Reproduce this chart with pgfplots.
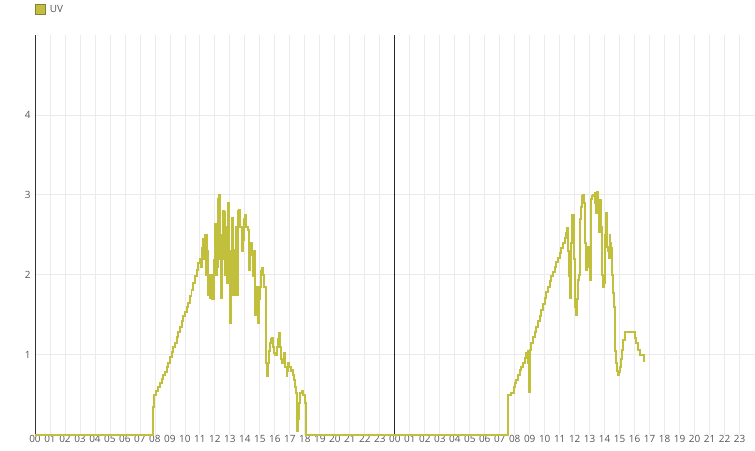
\documentclass[border=0pt]{standalone}
\usepackage{fontspec}
\setmainfont{Open Sans}
\usepackage{pgfplots}
\pgfplotsset{compat=1.18}
\definecolor{uvcol}{RGB}{193,191,59}
\definecolor{uvborder}{RGB}{130,128,60}
\definecolor{gridc}{RGB}{235,235,235}
\definecolor{labc}{RGB}{85,85,85}
\begin{document}
\begin{tikzpicture}
\begin{axis}[
  scale only axis,
  width=720bp, height=400bp,
  xmin=0, xmax=48, ymin=0, ymax=5,
  separate axis lines,
  axis x line=bottom,
  axis y line=left,
  x axis line style={-, draw=none},
  y axis line style={-, draw=black!80, line width=0.8bp},
  xtick={0,...,47},
  xticklabels={00,01,02,03,04,05,06,07,08,09,10,11,12,13,14,15,16,17,18,19,20,21,22,23,00,01,02,03,04,05,06,07,08,09,10,11,12,13,14,15,16,17,18,19,20,21,22,23},
  ytick={1,2,3,4},
  major tick length=0pt,
  xmajorgrids, ymajorgrids,
  grid style={gridc, line width=0.8bp},
  extra x ticks={24},
  extra x tick labels={},
  extra x tick style={grid style={black!85, line width=0.8bp}},
  tick label style={font=\fontsize{10}{12}\selectfont, text=labc},
  xticklabel style={yshift=3bp},
  yticklabel style={xshift=-1bp},
  /pgf/number format/assume math mode=true,
  clip=false,
  legend style={at={(rel axis cs:0,1)}, anchor=south west, yshift=19bp, xshift=0bp, draw=none, fill=none, inner sep=0pt, font=\fontsize{10}{12}\selectfont, text=labc},
  legend image code/.code={\draw[fill=uvcol, draw=uvborder, line width=0.6bp] (0bp,-4.5bp) rectangle (10bp,5.5bp);},
  legend cell align=left,
  legend style={/tikz/every odd column/.style={column sep=2bp}},
]
\addplot[const plot, color=uvcol, line width=2bp] coordinates {
(0,0) (7.87,0) (7.9,0.35) (7.95,0.5) (8.0,0.5) (8.1,0.55) (8.22,0.6) (8.33,0.65) (8.44,0.7) (8.55,0.75) (8.67,0.79) (8.78,0.85) (8.89,0.9) (9.0,0.97) (9.11,1.04) (9.22,1.1) (9.33,1.15) (9.44,1.22) (9.56,1.29) (9.67,1.35) (9.78,1.42) (9.89,1.48) (10.0,1.54) (10.11,1.6) (10.22,1.65) (10.33,1.73) (10.44,1.81) (10.55,1.9) (10.67,1.98) (10.78,2.06) (10.89,2.15) (11.0,2.2)
(11.05,2.1) (11.11,2.34) (11.18,2.2) (11.24,2.45) (11.29,2.2) (11.35,2.5) (11.4,2.0) (11.44,2.5) (11.5,2.3) (11.56,1.75) (11.62,2.0) (11.7,1.71) (11.78,2.0) (11.84,1.7) (11.92,2.19) (12.0,2.63) (12.05,2.0) (12.11,2.63) (12.18,2.1) (12.24,2.95) (12.29,3.0) (12.35,2.2) (12.4,2.5) (12.44,1.71) (12.5,2.2) (12.55,2.8) (12.6,2.79) (12.65,2.0) (12.72,2.4) (12.78,2.6) (12.83,1.9) (12.89,2.9) (12.95,2.2) (13.0,1.4) (13.05,1.7) (13.1,2.3) (13.16,2.71) (13.22,1.75) (13.27,2.3) (13.33,2.31) (13.38,1.75) (13.44,2.6) (13.5,1.75) (13.56,2.8) (13.62,2.81) (13.7,2.6) (13.78,2.56) (13.84,2.3) (13.89,2.44) (13.95,2.7) (14.0,2.75) (14.1,2.6) (14.18,2.56) (14.27,2.06) (14.33,2.35) (14.4,2.4) (14.48,2.25) (14.56,1.98) (14.62,2.3) (14.67,1.5) (14.72,1.6) (14.78,1.73) (14.84,1.85) (14.89,1.4) (14.95,1.7) (15.0,1.85) (15.08,2.05) (15.16,2.09) (15.22,2.0) (15.29,1.85) (15.38,1.29) (15.44,0.9) (15.47,0.73) (15.52,0.8) (15.56,0.9) (15.62,1.05) (15.67,1.15) (15.75,1.2) (15.82,1.21) (15.9,1.1) (15.96,1.02) (16.03,1.0) (16.11,1.1) (16.2,1.2) (16.27,1.27) (16.33,1.1) (16.38,1.02) (16.44,0.95) (16.49,0.9) (16.55,0.95) (16.62,1.02) (16.7,0.85) (16.78,0.73) (16.84,0.8) (16.89,0.9) (16.95,0.85) (17.0,0.85) (17.08,0.8) (17.16,0.81) (17.22,0.75) (17.29,0.69) (17.36,0.6) (17.44,0.52) (17.48,0.05) (17.54,0.2) (17.6,0.4) (17.67,0.52) (17.78,0.55) (17.89,0.5) (18.0,0.4) (18.07,0)
(31.49,0) (31.53,0.25) (31.58,0.5) (31.78,0.52) (31.93,0.6) (32.02,0.65) (32.11,0.69) (32.22,0.75) (32.33,0.81) (32.44,0.85) (32.55,0.9) (32.66,0.96) (32.78,1.02) (32.86,1.05) (32.91,0.9) (32.95,0.54) (33.0,1.06) (33.11,1.15) (33.22,1.22) (33.33,1.29) (33.44,1.35) (33.55,1.42) (33.66,1.49) (33.78,1.56) (33.89,1.63) (34.0,1.71) (34.11,1.78) (34.22,1.85) (34.33,1.92) (34.44,1.98) (34.55,2.04) (34.67,2.1) (34.78,2.16) (34.89,2.21) (35.0,2.27) (35.11,2.33) (35.22,2.4) (35.33,2.46) (35.42,2.52) (35.49,2.58) (35.55,2.3) (35.6,1.98) (35.67,1.71) (35.72,2.1) (35.78,2.4) (35.84,2.75) (35.89,2.75) (35.95,2.2) (36.0,1.81) (36.05,1.6) (36.11,1.5) (36.16,1.7) (36.22,1.94) (36.28,2.0) (36.33,2.19) (36.38,2.7) (36.44,2.85) (36.5,2.98) (36.55,3.0) (36.6,2.9) (36.67,2.77) (36.72,2.4) (36.78,2.06) (36.84,2.2) (36.89,2.35) (36.95,2.1) (37.0,1.94) (37.07,2.75) (37.12,2.95) (37.18,2.98) (37.25,3.0) (37.33,3.02) (37.38,2.9) (37.44,2.77) (37.49,3.04) (37.55,2.9) (37.62,2.54) (37.67,2.7) (37.71,2.94) (37.76,2.6) (37.8,2.27) (37.85,2.0) (37.89,1.85) (37.95,1.9) (38.0,2.0) (38.05,2.5) (38.11,2.77) (38.15,2.6) (38.18,2.35) (38.22,2.3) (38.27,2.21) (38.33,2.5) (38.38,2.4) (38.44,2.33) (38.5,2.0) (38.55,1.77) (38.62,1.6) (38.67,1.27) (38.72,1.05) (38.78,0.9) (38.84,0.8) (38.89,0.75) (38.95,0.78) (39.0,0.85) (39.1,0.95) (39.18,1.06) (39.25,1.18) (39.33,1.29) (39.89,1.29) (40.0,1.21) (40.11,1.15) (40.22,1.06) (40.33,1.0) (40.45,1.0) (40.6,0.92) (40.67,0.92)
};
\addlegendentry{UV}
\path (rel axis cs:0,0) ++(-35bp,-16bp) coordinate (bbsw);
\path (rel axis cs:1,1) ++(0bp,35bp) coordinate (bbne);
\end{axis}
\useasboundingbox (bbsw) rectangle (bbne);
\end{tikzpicture}
\end{document}
